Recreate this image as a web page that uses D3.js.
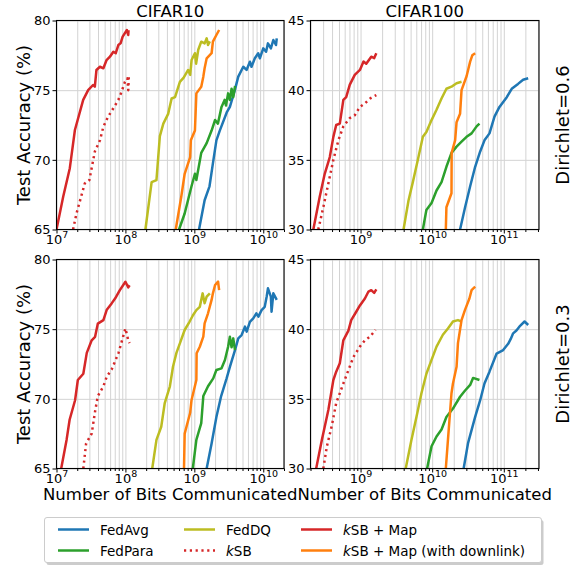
<!DOCTYPE html>
<meta charset="utf-8">
<head>
<title>Test accuracy vs bits communicated</title>
<style>
  body { margin: 0; background: white; }
  text { font-family: "DejaVu Sans", sans-serif; fill: black; }
</style>
</head>
<body>
<div id="chart"></div>
<script src="https://d3js.org/d3.v7.min.js"></script>
<script>

// ---- categories / ticks ----
var methods = ["FedAvg", "FedPara", "FedDQ", "kSB", "kSB + Map", "kSB + Map (with downlink)"];
var colors = ["#1f77b4", "#2ca02c", "#bcbd22", "#d62728", "#d62728", "#ff7f0e"];
var datasets = ["CIFAR10", "CIFAR100"];
var rowLabels = ["Dirichlet=0.6", "Dirichlet=0.3"];
var yTicksC10 = [65, 70, 75, 80];
var yTicksC100 = [30, 35, 40, 45];
var xTicksC10 = [1e7, 1e8, 1e9, 1e10];
var xTicksC100 = [1e9, 1e10, 1e11];

// ---- series: [bits, accuracy %] ----
// CIFAR10, Dirichlet=0.6
var c10d06FedAvg = [[1.17e9,65],[1.41e9,67.1],[1.66e9,68.1],[1.86e9,69.75],[2.09e9,71.4],[2.34e9,72.1],[2.95e9,73.4],[3.28e9,73.8],[3.87e9,75.0],[4.34e9,75.97],[5.13e9,76.68],[5.73e9,76.45],[6.4e9,77.04],[6.76e9,76.68],[7.55e9,77.29],[8.45e9,77.65],[8.93e9,77.29],[1.0e10,78.0],[1.1e10,77.76],[1.17e10,78.36],[1.29e10,78.0],[1.4e10,78.6],[1.53e10,78.24],[1.57e10,78.72]];
var c10d06FedPara = [[6.0e8,65],[7.24e8,66.15],[9.1e8,68.1],[1.02e9,69.0],[1.07e9,68.55],[1.26e9,70.5],[1.51e9,71.2],[1.78e9,72.1],[2.0e9,72.86],[2.2e9,72.6],[2.48e9,73.8],[2.75e9,74.3],[2.88e9,73.9],[3.09e9,74.77],[3.28e9,74.3],[3.47e9,75.1],[3.67e9,74.5],[3.9e9,75.3]];
var c10d06FedDQ = [[1.95e8,65],[2.4e8,68.4],[2.82e8,68.55],[3.16e8,71.7],[3.55e8,72.6],[4.17e8,73.3],[4.68e8,74.4],[5.25e8,74.5],[6.17e8,75.6],[7.0e8,75.9],[8.13e8,76.45],[8.7e8,76.1],[9.12e8,77.16],[1.02e9,77.65],[1.06e9,76.9],[1.14e9,77.9],[1.26e9,78.48],[1.41e9,78.36],[1.51e9,78.72],[1.58e9,78.24],[1.68e9,78.5]];
var c10d06KSB = [[1.74e7,65],[1.95e7,66.15],[2.57e7,68.3],[3.0e7,68.55],[3.6e7,70.6],[4.27e7,71.4],[4.79e7,72.38],[5.62e7,73.1],[6.68e7,73.7],[7.89e7,74.3],[8.81e7,74.9],[9.84e7,75.6],[1.07e8,75.85],[1.1e8,75.0],[1.12e8,76.0]];
var c10d06KSBMap = [[1.0e7,65],[1.25e7,67.35],[1.56e7,69.4],[1.85e7,72.14],[2.44e7,74.3],[2.88e7,75.0],[3.39e7,75.37],[3.6e7,75.25],[3.8e7,76.45],[4.27e7,76.68],[4.79e7,76.57],[5.33e7,77.16],[5.96e7,77.4],[6.68e7,77.76],[7.24e7,77.65],[7.89e7,78.24],[8.51e7,78.36],[9.12e7,78.84],[9.77e7,79.08],[1.05e8,79.32],[1.1e8,78.96],[1.11e8,79.3]];
var c10d06KSBMapDown = [[5.37e8,65],[6.46e8,67.35],[7.24e8,69.0],[8.7e8,70.2],[8.9e8,71.4],[1.02e9,72.1],[1.07e9,74.77],[1.26e9,75.25],[1.35e9,75.97],[1.41e9,76.57],[1.51e9,77.29],[1.78e9,77.65],[1.86e9,78.48],[2.09e9,78.96],[2.29e9,79.32]];
// CIFAR100, Dirichlet=0.6
var c100d06FedAvg = [[2.45e10,30],[2.88e10,31.6],[3.39e10,33.1],[3.98e10,34.5],[4.68e10,35.6],[5.37e10,36.4],[6.31e10,36.9],[7.41e10,38.1],[8.7e10,38.8],[1.1e11,39.5],[1.29e11,40.1],[1.45e11,40.3],[1.58e11,40.45],[1.86e11,40.75],[2.19e11,40.85]];
var c100d06FedPara = [[7.41e9,30],[8.3e9,31.4],[9.8e9,31.9],[1.15e10,32.8],[1.35e10,33.4],[1.58e10,34.5],[1.86e10,35.5],[2.19e10,35.95],[2.57e10,36.3],[3.02e10,36.65],[3.55e10,36.9],[4.17e10,37.4],[4.57e10,37.6]];
var c100d06FedDQ = [[3.98e9,30],[4.68e9,32.1],[5.37e9,33.4],[6.31e9,35.0],[7.41e9,36.65],[8.3e9,37.0],[9.8e9,37.85],[1.15e10,38.6],[1.35e10,39.4],[1.58e10,40.1],[1.86e10,40.25],[2.19e10,40.5],[2.57e10,40.6]];
var c100d06KSB = [[2.57e8,30],[3.02e8,31.6],[3.55e8,33.3],[4.17e8,35.0],[4.9e8,36.4],[5.75e8,37.4],[7.08e8,38.0],[8.3e8,38.2],[9.8e8,38.8],[1.15e9,39.05],[1.35e9,39.4],[1.66e9,39.65]];
var c100d06KSBMap = [[2.19e8,30],[2.69e8,32.35],[3.16e8,34.0],[3.72e8,35.2],[4.17e8,36.65],[4.57e8,37.5],[5.13e8,37.6],[5.75e8,39.3],[6.3e8,39.5],[7.08e8,40.4],[8.3e8,41.1],[9.8e8,41.45],[1.1e9,42.05],[1.2e9,41.9],[1.41e9,42.4],[1.55e9,42.3],[1.66e9,42.65]];
var c100d06KSBMapDown = [[1.55e10,30],[1.58e10,31.6],[1.86e10,32.6],[1.87e10,35.5],[2.09e10,36.4],[2.19e10,37.7],[2.45e10,38.3],[2.57e10,40.0],[3.02e10,41.0],[3.39e10,42.05],[3.63e10,42.5],[3.98e10,42.65]];
// CIFAR10, Dirichlet=0.3
var c10d03FedAvg = [[1.51e9,65],[1.78e9,66.8],[2.09e9,68.7],[2.45e9,70.2],[2.94e9,71.47],[3.28e9,72.3],[3.89e9,73.5],[4.34e9,74.34],[4.85e9,74.58],[5.43e9,75.18],[5.75e9,74.82],[6.4e9,75.53],[7.16e9,75.78],[7.94e9,76.14],[8.5e9,75.9],[9.46e9,76.37],[1.05e10,76.6],[1.12e10,77.33],[1.17e10,77.93],[1.29e10,77.33],[1.32e10,76.25],[1.4e10,77.57],[1.57e10,77.1]];
var c10d03FedPara = [[9.5e8,65],[1.07e9,67.05],[1.26e9,68.25],[1.35e9,70.2],[1.58e9,70.9],[1.88e9,71.47],[2.09e9,72.07],[2.48e9,72.19],[2.78e9,72.79],[3.09e9,73.74],[3.28e9,74.46],[3.47e9,73.7],[3.67e9,74.34],[3.89e9,73.5]];
var c10d03FedDQ = [[2.45e8,65],[2.82e8,67.05],[3.31e8,68.0],[3.72e8,69.7],[4.42e8,70.9],[4.9e8,72.3],[5.5e8,73.3],[6.17e8,73.98],[7.24e8,74.94],[8.51e8,75.53],[9.55e8,76.0],[1.07e9,76.37],[1.2e9,76.6],[1.32e9,77.57],[1.41e9,76.86],[1.51e9,77.33],[1.68e9,77.57]];
var c10d03KSB = [[2.45e7,65],[2.69e7,66.8],[3.24e7,67.5],[3.63e7,69.1],[3.98e7,70.2],[4.79e7,70.9],[5.37e7,71.6],[6.31e7,72.1],[7.94e7,73.3],[9.3e7,74.5],[1.0e8,75.05],[1.1e8,74.2],[1.15e8,74.0]];
var c10d03KSBMap = [[1.17e7,65],[1.4e7,67.05],[1.55e7,68.5],[1.86e7,69.9],[2.04e7,71.35],[2.45e7,71.8],[2.75e7,73.3],[3.24e7,74.2],[3.63e7,74.45],[3.98e7,75.4],[4.79e7,75.65],[5.37e7,76.4],[6.31e7,76.85],[7.08e7,77.2],[8.3e7,77.8],[1.0e8,78.4],[1.1e8,78.0],[1.15e8,78.15]];
var c10d03KSBMapDown = [[7.08e8,65],[7.24e8,67.5],[8.7e8,69.0],[9.1e8,69.9],[1.07e9,71.35],[1.08e9,73.27],[1.2e9,73.74],[1.35e9,74.46],[1.41e9,75.42],[1.58e9,76.14],[1.78e9,77.1],[1.86e9,77.57],[2.0e9,78.17],[2.21e9,78.41],[2.29e9,77.8]];
// CIFAR100, Dirichlet=0.3
var c100d03FedAvg = [[2.75e10,30],[3.16e10,31.8],[3.98e10,33.7],[4.68e10,34.9],[5.37e10,36.1],[6.31e10,36.95],[7.94e10,38.25],[9.8e10,38.5],[1.15e11,38.95],[1.25e11,39.3],[1.35e11,39.7],[1.5e11,39.9],[1.66e11,40.2],[1.95e11,40.55],[2.19e11,40.3]];
var c100d03FedPara = [[8.5e9,30],[9.8e9,31.6],[1.15e10,32.3],[1.35e10,32.8],[1.58e10,33.7],[1.95e10,34.3],[2.45e10,35.15],[2.88e10,35.6],[3.39e10,36.0],[3.72e10,36.5],[4.57e10,36.35]];
var c100d03FedDQ = [[4.27e9,30],[5.13e9,32.05],[6.03e9,33.7],[7.08e9,35.4],[8.3e9,36.8],[9.8e9,37.8],[1.15e10,38.75],[1.41e10,39.6],[1.66e10,40.05],[1.95e10,40.55],[2.29e10,40.65],[2.57e10,40.55]];
var c100d03KSB = [[3.02e8,30],[3.39e8,31.6],[3.98e8,33.1],[4.57e8,34.7],[5.75e8,36.1],[6.76e8,37.05],[7.94e8,38.0],[9.8e8,38.75],[1.15e9,39.2],[1.35e9,39.45],[1.62e9,39.95]];
var c100d03KSBMap = [[2.4e8,30],[2.88e8,32.05],[3.55e8,34.2],[4.17e8,36.35],[4.57e8,36.95],[5.13e8,37.55],[5.75e8,39.2],[6.76e8,39.9],[7.41e8,40.65],[8.7e8,41.25],[9.8e8,41.7],[1.15e9,42.2],[1.29e9,42.7],[1.41e9,42.8],[1.55e9,42.6],[1.66e9,42.85]];
var c100d03KSBMapDown = [[1.55e10,30],[1.66e10,32.05],[1.86e10,35.4],[1.95e10,36.1],[2.19e10,37.3],[2.29e10,39.0],[2.57e10,40.65],[2.88e10,41.4],[3.31e10,42.2],[3.55e10,42.8],[3.98e10,43.05]];

// panel -> series (same order as methods)
var panels = [
  {col: 0, row: 0, series: [c10d06FedAvg, c10d06FedPara, c10d06FedDQ, c10d06KSB, c10d06KSBMap, c10d06KSBMapDown]},
  {col: 1, row: 0, series: [c100d06FedAvg, c100d06FedPara, c100d06FedDQ, c100d06KSB, c100d06KSBMap, c100d06KSBMapDown]},
  {col: 0, row: 1, series: [c10d03FedAvg, c10d03FedPara, c10d03FedDQ, c10d03KSB, c10d03KSBMap, c10d03KSBMapDown]},
  {col: 1, row: 1, series: [c100d03FedAvg, c100d03FedPara, c100d03FedDQ, c100d03KSB, c100d03KSBMap, c100d03KSBMapDown]}
];

// layout
var colX = [[56.5, 284], [310.5, 539]];
var rowY = [[20.5, 229.5], [259.5, 468.5]];
var xDomains = [[1e7, 2e10], [2e8, 3.1e11]];
var yDomains = [[65, 80], [30, 45]];
var xTicks = [xTicksC10, xTicksC100];
var yTicks = [yTicksC10, yTicksC100];
var lineW = 2.5;

var svg = d3.select("#chart")
  .append("svg")
    .attr("width", 585)
    .attr("height", 567);

var defs = svg.append("defs");

function minorTicks(domain) {
  var out = [];
  var lo = Math.floor(Math.log10(domain[0])), hi = Math.ceil(Math.log10(domain[1]));
  for (var k = lo; k <= hi; k++) {
    for (var m = 2; m <= 9; m++) {
      var v = m * Math.pow(10, k);
      if (v >= domain[0] && v <= domain[1]) out.push(v);
    }
  }
  return out;
}

panels.forEach(function(p, i) {
  var x0 = colX[p.col][0], x1 = colX[p.col][1];
  var y0 = rowY[p.row][0], y1 = rowY[p.row][1];
  var w = x1 - x0, h = y1 - y0;

  var x = d3.scaleLog().domain(xDomains[p.col]).range([0, w]);
  var y = d3.scaleLinear().domain(yDomains[p.col]).range([h, 0]);

  var g = svg.append("g").attr("transform", "translate(" + x0 + "," + y0 + ")");

  defs.append("clipPath").attr("id", "clip" + i)
    .append("rect").attr("width", w).attr("height", h);

  // grid: x major + minor, y major
  var gridVals = xTicks[p.col].concat(minorTicks(xDomains[p.col]));
  g.append("g")
    .attr("class", "grid")
    .attr("transform", "translate(0," + h + ")")
    .call(d3.axisBottom(x).tickValues(gridVals).tickSize(-h).tickFormat(""))
    .call(function(s) { s.select(".domain").remove(); });
  g.append("g")
    .attr("class", "grid")
    .call(d3.axisLeft(y).tickValues(yTicks[p.col]).tickSize(-w).tickFormat(""))
    .call(function(s) { s.select(".domain").remove(); });
  g.selectAll(".grid line").attr("stroke", "#d3d3d3").attr("stroke-width", 1);

  // lines
  var line = d3.line()
    .x(function(d) { return x(d[0]); })
    .y(function(d) { return y(d[1]); });

  var plot = g.append("g").attr("clip-path", "url(#clip" + i + ")");
  p.series.forEach(function(data, j) {
    plot.append("path")
      .datum(data)
      .attr("fill", "none")
      .attr("stroke", colors[j])
      .attr("stroke-width", lineW)
      .attr("stroke-linejoin", "round")
      .attr("stroke-dasharray", methods[j] == "kSB" ? "2.2,3.6" : null)
      .attr("d", line);
  });

  // axes
  var xa = g.append("g")
    .attr("transform", "translate(0," + h + ")")
    .call(d3.axisBottom(x).tickValues(xTicks[p.col]).tickSize(4).tickPadding(3).tickSizeOuter(0).tickFormat(""));
  xa.selectAll(".tick text").each(function(d) {
    var t = d3.select(this);
    t.attr("font-size", 13).attr("dy", null).attr("y", 14);
    t.append("tspan").text("10");
    t.append("tspan").attr("dy", -6).attr("font-size", 9.5).text(Math.round(Math.log10(d)));
  });
  g.append("g")
    .attr("transform", "translate(0," + h + ")")
    .call(d3.axisBottom(x).tickValues(minorTicks(xDomains[p.col])).tickSize(2.5).tickFormat("").tickSizeOuter(0))
    .call(function(s) { s.select(".domain").remove(); });

  g.append("g")
    .call(d3.axisLeft(y).tickValues(yTicks[p.col]).tickSize(4).tickPadding(2).tickSizeOuter(0))
    .selectAll(".tick text").attr("font-size", 13).attr("font-family", "DejaVu Sans");

  g.selectAll(".domain").remove();
  g.selectAll(".tick line").filter(function() { return !this.parentNode.parentNode.classList.contains("grid"); })
    .attr("stroke", "black").attr("stroke-width", 1);

  // frame
  g.append("rect")
    .attr("width", w).attr("height", h)
    .attr("fill", "none").attr("stroke", "black").attr("stroke-width", 1.1);

  if (p.row == 0) {
    svg.append("text")
      .attr("x", x0 + w / 2).attr("y", 16.5)
      .attr("text-anchor", "middle")
      .style("font-size", "16.5px")
      .text(datasets[p.col]);
  } else {
    svg.append("text")
      .attr("x", x0 + w / 2).attr("y", 500)
      .attr("text-anchor", "middle")
      .style("font-size", "16.5px")
      .text("Number of Bits Communicated");
  }
  if (p.col == 0) {
    svg.append("text")
      .attr("text-anchor", "middle")
      .style("font-size", "18px")
      .attr("transform", "translate(30," + (y0 + h / 2) + ") rotate(-90)")
      .text("Test Accuracy (%)");
  } else {
    svg.append("text")
      .attr("text-anchor", "middle")
      .style("font-size", "18px")
      .attr("transform", "translate(569," + (y0 + h / 2) + ") rotate(-90)")
      .text(rowLabels[p.row]);
  }
});

// legend
var legend = svg.append("g");
legend.append("rect")
  .attr("x", 46.5).attr("y", 520).attr("width", 497).attr("height", 45)
  .attr("rx", 2.5).attr("fill", "#999").attr("opacity", 0.5);
legend.append("rect")
  .attr("x", 44.5).attr("y", 517.5).attr("width", 497).attr("height", 45)
  .attr("rx", 2.5).attr("fill", "white").attr("stroke", "#cccccc").attr("stroke-width", 1);

var legendCols = [58, 184, 301];
var legendRows = [529.5, 550.5];
methods.forEach(function(m, j) {
  var cx = legendCols[Math.floor(j / 2)], cy = legendRows[j % 2];
  legend.append("line")
    .attr("x1", cx).attr("x2", cx + 31).attr("y1", cy).attr("y2", cy)
    .attr("stroke", colors[j]).attr("stroke-width", lineW)
    .attr("stroke-dasharray", m == "kSB" ? "2.2,3.6" : null);
  var t = legend.append("text")
    .attr("x", cx + 42).attr("y", cy + 5)
    .style("font-size", "13.5px");
  if (m.charAt(0) == "k") {
    t.append("tspan").style("font-style", "italic").text("k");
    t.append("tspan").text(m.slice(1));
  } else {
    t.text(m);
  }
});

</script>
</body>
